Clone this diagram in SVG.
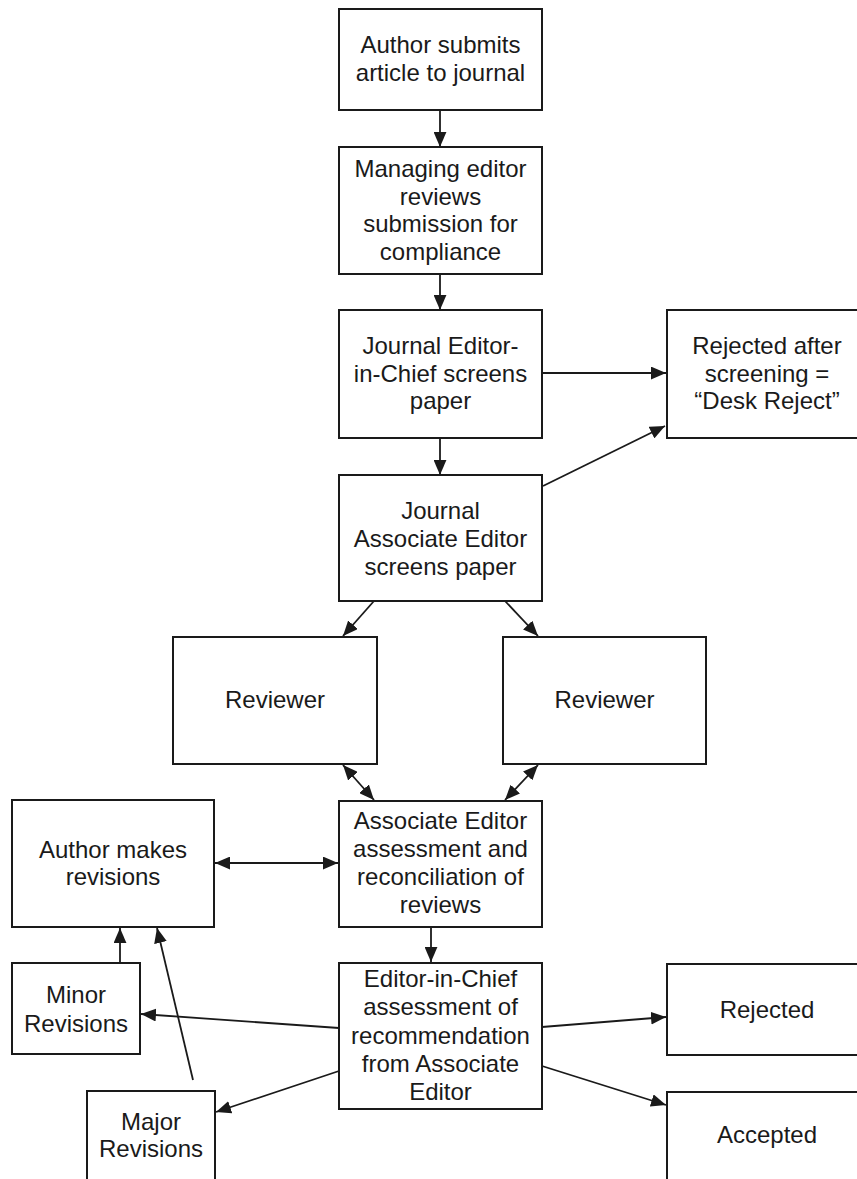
<svg xmlns="http://www.w3.org/2000/svg" width="857" height="1179" viewBox="0 0 857 1179">
<style>
.box{fill:#fff;stroke:#1a1a1a;stroke-width:2}
.t{font-family:"Liberation Sans",Arial,sans-serif;font-size:24px;fill:#1a1a1a;text-anchor:middle}
.c{stroke:#1a1a1a;stroke-width:1.8;fill:none}
</style>
<defs>
<marker id="ah" viewBox="0 0 14 12" refX="14" refY="6" markerWidth="15" markerHeight="13" markerUnits="userSpaceOnUse" orient="auto-start-reverse">
<path d="M0,0 L14,6 L0,12 Z" fill="#1a1a1a"/>
</marker>
</defs>
<rect width="857" height="1179" fill="#fff"/>
<g id="connectors">
<line class="c" x1="440" y1="110" x2="440" y2="147" marker-end="url(#ah)"/>
<line class="c" x1="440" y1="274" x2="440" y2="310" marker-end="url(#ah)"/>
<line class="c" x1="440" y1="438" x2="440" y2="475" marker-end="url(#ah)"/>
<line class="c" x1="542" y1="373" x2="666" y2="373" marker-end="url(#ah)"/>
<line class="c" x1="543" y1="486" x2="665" y2="426" marker-end="url(#ah)"/>
<line class="c" x1="374" y1="601" x2="343" y2="636" marker-end="url(#ah)"/>
<line class="c" x1="505" y1="601" x2="538" y2="636" marker-end="url(#ah)"/>
<line class="c" x1="343" y1="765" x2="374" y2="800" marker-start="url(#ah)" marker-end="url(#ah)"/>
<line class="c" x1="538" y1="765" x2="505" y2="800" marker-start="url(#ah)" marker-end="url(#ah)"/>
<line class="c" x1="215" y1="863" x2="338" y2="863" marker-start="url(#ah)" marker-end="url(#ah)"/>
<line class="c" x1="431" y1="927" x2="431" y2="962" marker-end="url(#ah)"/>
<line class="c" x1="120" y1="963" x2="120" y2="928" marker-end="url(#ah)"/>
<line class="c" x1="193" y1="1080" x2="157" y2="928" marker-end="url(#ah)"/>
<line class="c" x1="339" y1="1028" x2="141" y2="1014" marker-end="url(#ah)"/>
<line class="c" x1="339" y1="1071" x2="216" y2="1112" marker-end="url(#ah)"/>
<line class="c" x1="542" y1="1027" x2="666" y2="1017" marker-end="url(#ah)"/>
<line class="c" x1="542" y1="1066" x2="666" y2="1105" marker-end="url(#ah)"/>
</g>
<g id="n1"><rect class="box" x="339" y="9" width="203" height="101"/>
<text class="t" x="440.5" y="53">Author submits</text><text class="t" x="440.5" y="81">article to journal</text></g>
<g id="n2"><rect class="box" x="339" y="147" width="203" height="127"/>
<text class="t" x="440.5" y="177">Managing editor</text><text class="t" x="440.5" y="204.5">reviews</text><text class="t" x="440.5" y="232">submission for</text><text class="t" x="440.5" y="259.5">compliance</text></g>
<g id="n3"><rect class="box" x="339" y="310" width="203" height="128"/>
<text class="t" x="440.5" y="354">Journal Editor-</text><text class="t" x="440.5" y="382">in-Chief screens</text><text class="t" x="440.5" y="409">paper</text></g>
<g id="n4"><rect class="box" x="667" y="310" width="203" height="128"/>
<text class="t" x="767" y="354">Rejected after</text><text class="t" x="767" y="382">screening =</text><text class="t" x="767" y="409">“Desk Reject”</text></g>
<g id="n5"><rect class="box" x="339" y="475" width="203" height="126"/>
<text class="t" x="440.5" y="519">Journal</text><text class="t" x="440.5" y="547">Associate Editor</text><text class="t" x="440.5" y="575">screens paper</text></g>
<g id="n6"><rect class="box" x="173" y="637" width="204" height="127"/>
<text class="t" x="275" y="708">Reviewer</text></g>
<g id="n7"><rect class="box" x="503" y="637" width="203" height="127"/>
<text class="t" x="604.5" y="708">Reviewer</text></g>
<g id="n8"><rect class="box" x="12" y="800" width="202" height="127"/>
<text class="t" x="113" y="858">Author makes</text><text class="t" x="113" y="885">revisions</text></g>
<g id="n9"><rect class="box" x="339" y="801" width="203" height="126"/>
<text class="t" x="440.5" y="829">Associate Editor</text><text class="t" x="440.5" y="857">assessment and</text><text class="t" x="440.5" y="885">reconciliation of</text><text class="t" x="440.5" y="913">reviews</text></g>
<g id="n10"><rect class="box" x="339" y="963" width="203" height="146"/>
<text class="t" x="440.5" y="987">Editor-in-Chief</text><text class="t" x="440.5" y="1015">assessment of</text><text class="t" x="440.5" y="1044">recommendation</text><text class="t" x="440.5" y="1072">from Associate</text><text class="t" x="440.5" y="1100">Editor</text></g>
<g id="n11"><rect class="box" x="12" y="963" width="128" height="91"/>
<text class="t" x="76" y="1003">Minor</text><text class="t" x="76" y="1032">Revisions</text></g>
<g id="n12"><rect class="box" x="87" y="1091" width="128" height="92"/>
<text class="t" x="151" y="1130">Major</text><text class="t" x="151" y="1157">Revisions</text></g>
<g id="n13"><rect class="box" x="667" y="964" width="203" height="91"/>
<text class="t" x="767" y="1018">Rejected</text></g>
<g id="n14"><rect class="box" x="667" y="1092" width="203" height="92"/>
<text class="t" x="767" y="1143">Accepted</text></g>
</svg>
